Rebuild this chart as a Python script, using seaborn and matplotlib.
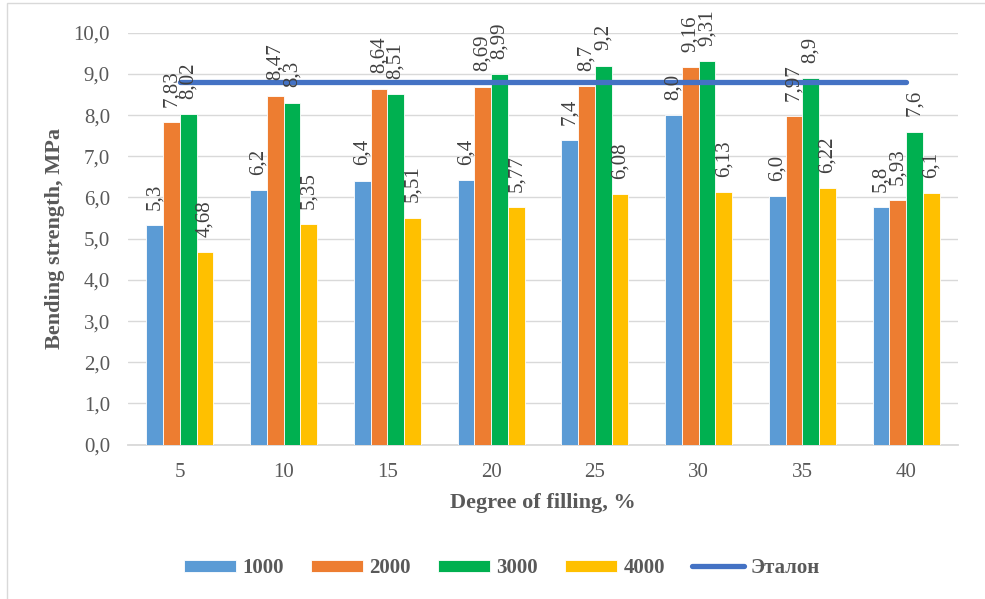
import numpy as np
import pandas as pd
import matplotlib
matplotlib.use("Agg")
import matplotlib.pyplot as plt
from matplotlib.patches import Rectangle
import seaborn as sns

# Degree of filling, % (categories on the x axis)
categories = ["5", "10", "15", "20", "25", "30", "35", "40"]

# Bending strength, MPa, for each series
s1000 = [5.33, 6.18, 6.41, 6.43, 7.40, 8.00, 6.03, 5.76]
s2000 = [7.83, 8.47, 8.64, 8.69, 8.70, 9.16, 7.97, 5.93]
s3000 = [8.02, 8.30, 8.51, 8.99, 9.20, 9.31, 8.90, 7.60]
s4000 = [4.68, 5.35, 5.51, 5.77, 6.08, 6.13, 6.22, 6.10]
series_names = ["1000", "2000", "3000", "4000"]
etalon = 8.8

y_ticks = [0, 1, 2, 3, 4, 5, 6, 7, 8, 9, 10]

colors = ["#5B9BD5", "#ED7D31", "#00B050", "#FFC000"]
line_color = "#4472C4"
text_color = "#595959"
label_color = "#404040"
grid_color = "#D9D9D9"

sns.set_theme(style="white")
plt.rcParams["font.family"] = ["Liberation Serif", "DejaVu Serif"]

df = pd.DataFrame({
    "filling": categories * 4,
    "series": sum([[n] * len(categories) for n in series_names], []),
    "value": s1000 + s2000 + s3000 + s4000,
})

fig = plt.figure(figsize=(9.85, 5.99), dpi=100)
ax = fig.add_axes([128 / 985, 1 - 444.7 / 599, (958 - 128) / 985, (444.7 - 32.7) / 599])

# outer chart frame
fig.patches.append(Rectangle((7 / 985, -0.1), 1.2, 1 - 3 / 599 + 0.1, transform=fig.transFigure,
                             fill=False, edgecolor="#D9D9D9", linewidth=1.0, zorder=0))

sns.barplot(data=df, x="filling", y="value", hue="series", order=categories,
            hue_order=series_names, palette=colors, saturation=1, width=0.646, gap=0,
            edgecolor="white", linewidth=0.6, ax=ax, zorder=3, legend=True)

xpos = np.arange(len(categories))
ax.plot(xpos, [etalon] * len(categories), color=line_color, linewidth=3.8,
        solid_capstyle="round", zorder=4, label="Эталон")

# value labels above each bar
def fmt_general(v):
    s = f"{v:.2f}".rstrip("0").rstrip(".")
    return s.replace(".", ",")

for cont, name in zip(ax.containers, series_names):
    if name == "1000":
        labels = [f"{b.get_height():.1f}".replace(".", ",") for b in cont]
    else:
        labels = [fmt_general(b.get_height()) for b in cont]
    ax.bar_label(cont, labels=labels, rotation=90, padding=11, fontsize=15,
                 color=label_color, zorder=5, clip_on=False)

ax.set_ylim(0, 10)
ax.set_xlim(-0.5, len(categories) - 0.5)
ax.set_yticks(y_ticks)
ax.set_yticklabels([f"{t:.1f}".replace(".", ",") for t in y_ticks])
ax.yaxis.grid(True, color=grid_color, linewidth=1.0, zorder=0)
ax.set_axisbelow(True)
for side in ["left", "right", "top"]:
    ax.spines[side].set_visible(False)
ax.spines["bottom"].set_color(grid_color)
ax.spines["bottom"].set_linewidth(1.3)
ax.tick_params(axis="both", length=0, labelsize=15, colors=text_color)
ax.tick_params(axis="y", pad=13)
ax.tick_params(axis="x", pad=13)

ax.set_xlabel("Degree of filling, %", fontsize=16, fontweight="bold", color=text_color, labelpad=8)
ax.set_ylabel("Bending strength, MPa", fontsize=16, fontweight="bold", color=text_color, labelpad=6)

handles, labels = ax.get_legend_handles_labels()
ax.get_legend().remove()
leg = fig.legend(handles, labels, loc="center", bbox_to_anchor=(502 / 985, 1 - 568 / 599),
                 ncol=5, frameon=False, handlelength=2.5, handleheight=0.5,
                 handletextpad=0.3, columnspacing=1.3,
                 prop={"weight": "bold", "size": 15})
for t in leg.get_texts():
    t.set_color(text_color)

fig.savefig("out.png", dpi=100)
